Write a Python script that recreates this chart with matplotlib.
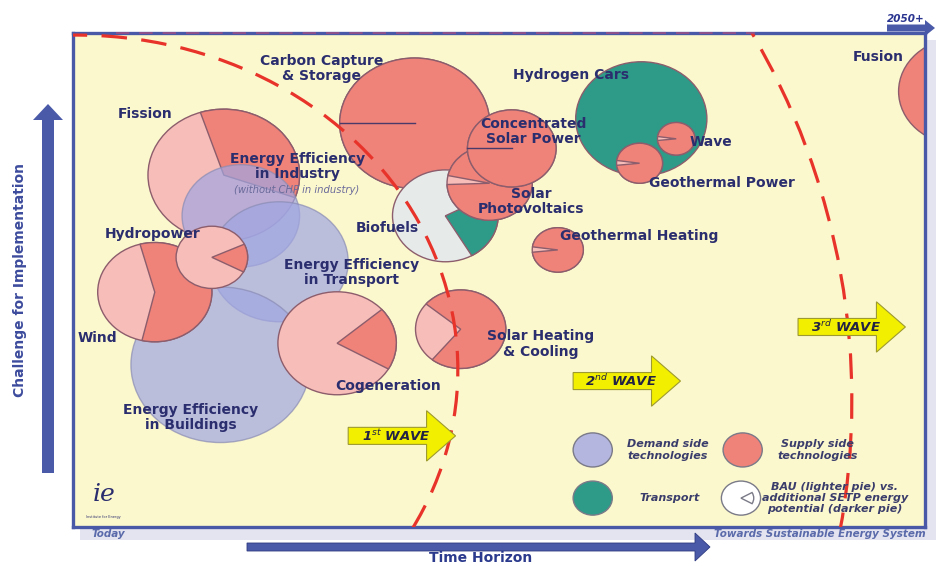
import matplotlib
matplotlib.use("Agg")
import matplotlib.pyplot as plt
from matplotlib.patches import Circle, Wedge, Arc, FancyArrow, Rectangle
import numpy as np

plt.rcParams['font.family'] = ['DejaVu Sans']

# x = time horizon (0 = today, 100 = 2050+), y = challenge for implementation
techs = ["Fission", "EE Industry", "EE Transport", "EE Buildings", "Wind", "Hydropower",
         "Cogeneration", "Solar Heating", "CCS", "Biofuels", "Solar PV", "CSP",
         "Hydrogen Cars", "Geothermal Heating", "Geothermal Power", "Wave", "Fusion"]
group = ["supply", "demand", "demand", "demand", "supply", "supply", "supply", "supply",
         "supply", "biofuel", "supply", "supply", "transport", "supply", "supply", "supply",
         "supply"]
time_x = [17.7, 19.7, 24.2, 17.3, 9.6, 16.3, 31.0, 45.5, 40.1, 43.7, 48.9, 51.5,
          66.7, 56.9, 66.5, 70.8, 104.1]
challenge_y = [47.5, 42.0, 35.8, 21.9, 31.7, 36.4, 24.8, 26.7, 54.5, 42.0, 46.4, 51.1,
               55.1, 37.4, 49.1, 52.4, 58.8]
size_r = [8.9, 6.9, 8.1, 10.5, 6.7, 4.2, 6.95, 5.3, 8.8, 6.2, 5.0, 5.2,
          7.7, 3.0, 2.7, 2.2, 7.2]
# darker pie = additional SETP potential, start / end angle (deg); None = plain bubble
extra_from = [-20, None, None, None, -103, -28, -30, -129, 180, -60, -178, 180,
              None, -174, -174, -174, None]
extra_to = [108, None, None, None, 105, 25, 41, 140, 540, 28, 168, 540,
            None, 172, 172, 172, None]

labels = ["Carbon Capture\n& Storage", "Fission", "Energy Efficiency\nin Industry",
          "Hydropower", "Energy Efficiency\nin Transport", "Wind",
          "Energy Efficiency\nin Buildings", "Cogeneration", "Solar Heating\n& Cooling",
          "Biofuels", "Concentrated\nSolar Power", "Solar\nPhotovoltaics", "Hydrogen Cars",
          "Wave", "Geothermal Power", "Geothermal Heating", "Fusion"]
label_xy = [(29.2, 61.9), (8.5, 55.7), (26.3, 48.6), (9.4, 39.5), (32.7, 34.4),
            (2.9, 25.5), (13.8, 14.8), (37.0, 19.0), (54.9, 24.7), (36.9, 40.4),
            (54.0, 53.4), (53.8, 43.9), (58.5, 61.0), (74.9, 52.0), (76.2, 46.4),
            (66.4, 39.3), (94.5, 63.4)]

waves = [r"1$^{st}$ WAVE", r"2$^{nd}$ WAVE", r"3$^{rd}$ WAVE"]
wave_start = [32.3, 58.7, 85.1]
wave_level = [12.3, 19.7, 27.0]

legend_items = ["Demand side\ntechnologies", "Supply side\ntechnologies", "Transport",
                "BAU (lighter pie) vs.\nadditional SETP energy\npotential (darker pie)"]

light = {"supply": "#f7bdb8", "biofuel": "#e6ebea"}
dark = {"supply": "#ef8279", "biofuel": "#2e9a88", "demand": "#a0a6e2",
        "transport": "#2e9a88"}
navy = "#2b2e6e"
edge = "#8c5d6c"

fig = plt.figure(figsize=(9.36, 5.66), dpi=100)

# background layer in pixel units
bg = fig.add_axes([0, 0, 1, 1], zorder=0)
bg.set_xlim(0, 936)
bg.set_ylim(566, 0)
bg.axis('off')
bg.add_patch(Rectangle((80, 40), 856, 500, fc="#e3e4f0", ec="none"))
bg.add_patch(FancyArrow(48, 473, 0, -369, width=12, head_width=30, head_length=16,
                        length_includes_head=True, fc="#4a5aa8", ec="none"))
bg.add_patch(FancyArrow(247, 547, 463, 0, width=8, head_width=28, head_length=15,
                        length_includes_head=True, fc="#4a5aa8", ec="#2e3a80", lw=0.6))
bg.add_patch(FancyArrow(887, 28, 48, 0, width=7, head_width=16, head_length=10,
                        length_includes_head=True, fc="#4a5aa8", ec="none"))
bg.text(20, 280, "Challenge for Implementation", rotation=90, ha="center", va="center",
        fontsize=10, fontweight="bold", color="#3c4b9c")
bg.text(481, 565, "Time Horizon", ha="center", va="bottom", fontsize=10,
        fontweight="bold", color="#2b3a8c")
bg.text(906, 19, "2050+", ha="center", va="center", fontsize=7.5, fontweight="bold",
        fontstyle="italic", color="#2a3590")
bg.text(108, 534, "Today", ha="center", va="center", fontsize=7.5, fontweight="bold",
        fontstyle="italic", color="#5a6aaa")
bg.text(820, 534, "Towards Sustainable Energy System", ha="center", va="center",
        fontsize=7.5, fontweight="bold", fontstyle="italic", color="#5a6aaa")

# main chart box
ax = fig.add_axes([73 / 936, 39 / 566, 852 / 936, 494 / 566], zorder=1)
ax.set_xlim(0, 100)
ax.set_ylim(0, 66.68)
ax.set_facecolor("#fcf8cd")
ax.set_xticks([])
ax.set_yticks([])
for sp in ax.spines.values():
    sp.set_color("#4a58a8")
    sp.set_linewidth(2.4)
# faint dashes along the top border
ax.axhline(66.68, xmin=0.05, xmax=0.80, color="#9a4f86", lw=1.2,
           linestyle=(0, (8, 6)), clip_on=False, zorder=2.7)

for i in range(len(techs)):
    cx, cy, r = time_x[i], challenge_y[i], size_r[i]
    z = 1 + i * 0.02
    g = group[i]
    if extra_from[i] is None:
        a = 0.7 if g == "demand" else 1.0
        ec = "#8a8cb4" if g == "demand" else edge
        ax.add_patch(Circle((cx, cy), r, fc=dark[g], ec=ec, lw=1, alpha=a, zorder=z))
    else:
        a1, a2 = extra_from[i], extra_to[i]
        ax.add_patch(Circle((cx, cy), r, fc=light[g], ec=edge, lw=1, zorder=z))
        ax.add_patch(Wedge((cx, cy), r, a1, a2, fc=dark[g], ec=edge, lw=1, zorder=z))
        if a2 - a1 >= 360:
            t = np.radians(a1)
            ax.plot([cx, cx + r * np.cos(t)], [cy, cy + r * np.sin(t)], color="#4a3a6a",
                    lw=1, zorder=z + 0.01)

# wave boundaries
ax.add_patch(Arc((0.47, 21.2), 89.4, 90.4, theta1=-35, theta2=95, color="#e8332a",
                 lw=2.3, linestyle=(0, (8, 4.5)), zorder=2.6))
ax.add_patch(Arc((0.47, 17.1), 181.9, 201.9, theta1=-25, theta2=60, color="#e8332a",
                 lw=2.3, linestyle=(0, (8, 4.5)), zorder=2.6))

for txt, (lx, ly) in zip(labels, label_xy):
    ax.text(lx, ly, txt, ha="center", va="center", fontsize=10, fontweight="bold",
            color=navy, linespacing=1.1, zorder=4)
ax.text(26.3, 45.5, "(without CHP in industry)", ha="center", va="center", fontsize=7.2,
        fontstyle="italic", color="#6a6a9a", zorder=4)

for txt, x0, y0 in zip(waves, wave_start, wave_level):
    ax.add_patch(FancyArrow(x0, y0, 12.6, 0, width=2.3, head_width=6.8, head_length=3.4,
                            length_includes_head=True, fc="#f3ef00", ec="#9c9a30",
                            lw=0.8, zorder=3))
    ax.text(x0 + 5.6, y0, txt, ha="center", va="center", fontsize=9.5,
            fontweight="bold", fontstyle="italic", color="#222244", zorder=4)

# legend
leg_pos = [(61.0, 10.4), (78.6, 10.4), (61.0, 3.9), (78.4, 3.9)]
leg_fill = ["#b4b6df", "#ef8279", "#2e9a88", "white"]
leg_text_x = [69.8, 87.4, 70.0, 89.4]
for (px, py), fc, tx, txt in zip(leg_pos, leg_fill, leg_text_x, legend_items):
    ax.add_patch(Circle((px, py), 2.3, fc=fc, ec="#7a7a88", lw=1, zorder=3))
    ax.text(tx, py, txt, ha="center", va="center", fontsize=8, fontweight="bold",
            fontstyle="italic", color="#3a3d6b", linespacing=1.15, zorder=4)
ax.add_patch(Wedge(leg_pos[3], 1.5, -30, 30, fc="white", ec="#7a7a88", lw=1, zorder=3.1))

# logo
ax.text(3.6, 4.4, "ie", ha="center", va="center", fontsize=18, family="DejaVu Serif",
        fontstyle="italic", color=navy, zorder=4)
ax.text(3.6, 1.4, "Institute for Energy", ha="center", va="center", fontsize=2.5,
        color=navy, zorder=4)

fig.savefig("out.png", dpi=100)
